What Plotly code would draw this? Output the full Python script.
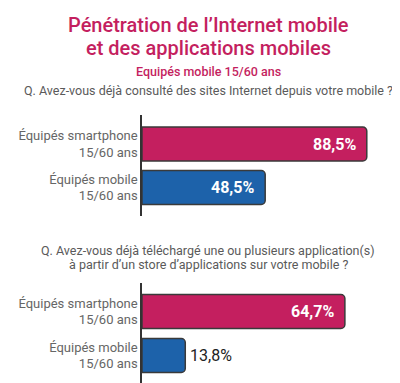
import plotly.graph_objects as go

# ---- data ----
categories = ["Équipés mobile<br>15/60 ans", "Équipés smartphone<br>15/60 ans"]
q1_values = [48.5, 88.5]
q2_values = [13.8, 64.7]
q1_labels = ["48,5%", "88,5%"]
q2_labels = ["13,8%", "64,7%"]
title_lines = ["Pénétration de l’Internet mobile", "et des applications mobiles"]
subtitle = "Equipés mobile 15/60 ans"
q1_text = "Q. Avez-vous déjà consulté des sites Internet depuis votre mobile ?"
q2_lines = ["Q. Avez-vous déjà téléchargé une ou plusieurs application(s)",
            "à partir d’un store d’applications sur votre mobile ?"]

MAGENTA = "#C41F5F"
BLUE = "#1D62AA"
GRAY = "#5a5a5a"
W, H = 400, 383
FONT = "Roboto"

def py(px):
    return 1 - px / H

ypos = [0, 1]
colors = [BLUE, MAGENTA]

fig = go.Figure()
fig.add_trace(go.Bar(x=q1_values, y=ypos, orientation="h", width=0.78,
                     marker=dict(color=colors, line=dict(color="#3a3a3a", width=1.5), cornerradius=4),
                     xaxis="x", yaxis="y", hoverinfo="skip"))
fig.add_trace(go.Bar(x=q2_values, y=ypos, orientation="h", width=0.77,
                     marker=dict(color=colors, line=dict(color="#3a3a3a", width=1.5), cornerradius=4),
                     xaxis="x2", yaxis="y2", hoverinfo="skip"))

annotations = []
# titles
for txt, ypx in [(title_lines[0], 17), (title_lines[1], 40)]:
    annotations.append(dict(text=txt, x=0.5, y=py(ypx), xref="paper", yref="paper",
                            showarrow=False, font=dict(family=FONT, size=20, color=MAGENTA, weight=500),
                            yanchor="middle"))
annotations.append(dict(text=subtitle, x=0.5, y=py(63), xref="paper", yref="paper",
                        showarrow=False, font=dict(family=FONT, size=12.5, color=MAGENTA, weight=500), yanchor="middle"))
annotations.append(dict(text=q1_text, x=0.5, y=py(83), xref="paper", yref="paper",
                        showarrow=False, font=dict(family=FONT, size=12.5, color=GRAY), yanchor="middle"))
annotations.append(dict(text=q2_lines[0], x=0.5, y=py(242), xref="paper", yref="paper",
                        showarrow=False, font=dict(family=FONT, size=12.5, color=GRAY), yanchor="middle"))
annotations.append(dict(text=q2_lines[1], x=0.5, y=py(256), xref="paper", yref="paper",
                        showarrow=False, font=dict(family=FONT, size=12.5, color=GRAY), yanchor="middle"))

# value labels
for vals, labs, xr, yr in [(q1_values, q1_labels, "x", "y"), (q2_values, q2_labels, "x2", "y2")]:
    for i, (v, lab) in enumerate(zip(vals, labs)):
        if v > 30:
            annotations.append(dict(text="<b>" + lab + "</b>", x=v, y=ypos[i], xref=xr, yref=yr,
                                    xanchor="right", xshift=-9, showarrow=False,
                                    font=dict(family=FONT, size=16, color="white")))
        else:
            annotations.append(dict(text=lab, x=v, y=ypos[i], xref=xr, yref=yr,
                                    xanchor="left", xshift=3, showarrow=False,
                                    font=dict(family=FONT, size=16, color="#222")))

yaxis_common = dict(tickvals=ypos, ticktext=categories, showgrid=False, zeroline=False,
                    showline=True, linecolor="#333", linewidth=1.5, ticks="",
                    tickfont=dict(family=FONT, size=13, color="#666"), fixedrange=True)
xaxis_common = dict(visible=False, showgrid=False, zeroline=False, fixedrange=True)

fig.update_layout(
    width=W, height=H, margin=dict(l=0, r=0, t=0, b=0),
    paper_bgcolor="white", plot_bgcolor="white", showlegend=False,
    xaxis=dict(domain=[134 / W, 388 / W], range=[0, 100], anchor="y", **xaxis_common),
    yaxis=dict(domain=[py(208), py(107)], range=[-0.655, 1.667], anchor="x", **yaxis_common),
    xaxis2=dict(domain=[134 / W, 388 / W], range=[0, 81], anchor="y2", **xaxis_common),
    yaxis2=dict(domain=[py(375), py(275)], range=[-0.625, 1.648], anchor="x2", **yaxis_common),
    annotations=annotations,
)

fig.write_html("out.html")
